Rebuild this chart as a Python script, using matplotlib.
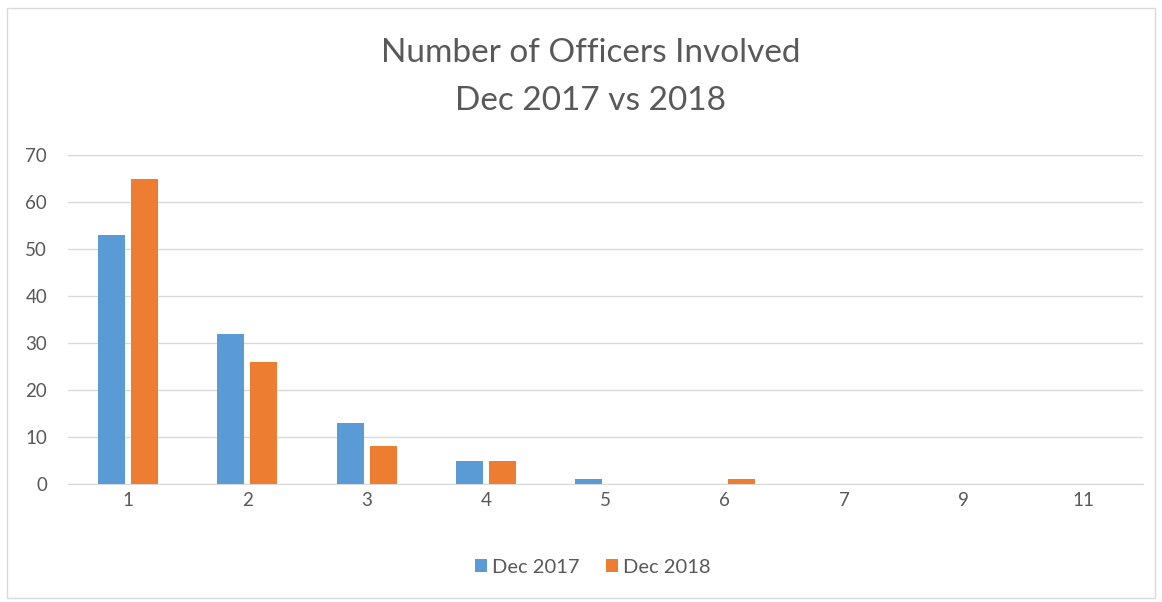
import matplotlib
matplotlib.use("Agg")
import matplotlib.pyplot as plt
import numpy as np
from matplotlib.patches import Rectangle

categories = ["1", "2", "3", "4", "5", "6", "7", "9", "11"]
dec_2017 = [53, 32, 13, 5, 1, 0, 0, 0, 0]
dec_2018 = [65, 26, 8, 5, 0, 1, 0, 0, 0]
series_names = ["Dec 2017", "Dec 2018"]
yticks = [0, 10, 20, 30, 40, 50, 60, 70]

plt.rcParams['font.family'] = ['Lato', 'DejaVu Sans']
text_color = '#595959'

fig = plt.figure(figsize=(11.62, 6.02), dpi=100)
fig.patches.append(Rectangle((0.006, 0.007), 0.988, 0.98, transform=fig.transFigure,
                             fill=False, edgecolor='#d9d9d9', linewidth=1))
ax = fig.add_axes([0.0585, 0.196, 0.925, 0.5465])

x = np.arange(len(categories))
w = 0.226
off = 0.138
ax.bar(x - off, dec_2017, width=w, color='#5b9bd5', label=series_names[0], zorder=3)
ax.bar(x + off, dec_2018, width=w, color='#ed7d31', label=series_names[1], zorder=3)

ax.set_xlim(-0.5, len(categories) - 0.5)
ax.set_ylim(0, 70)
ax.set_yticks(yticks)
ax.set_xticks(x)
ax.set_xticklabels(categories)
ax.grid(axis='y', color='#d9d9d9', linewidth=1, zorder=0)
for s in ['top', 'right', 'left']:
    ax.spines[s].set_visible(False)
ax.spines['bottom'].set_color('#d9d9d9')
ax.tick_params(axis='both', length=0, labelsize=13.5, colors=text_color)
ax.tick_params(axis='y', pad=15)
ax.tick_params(axis='x', pad=6)

fig.text(0.508, 0.912, "Number of Officers Involved", ha='center', va='center',
         fontsize=24, color=text_color)
fig.text(0.508, 0.832, "Dec 2017 vs 2018", ha='center', va='center',
         fontsize=24, color=text_color)

fig.legend(loc='center', bbox_to_anchor=(0.51, 0.058), ncol=2, frameon=False,
           fontsize=14.5, labelcolor=text_color, handlelength=0.6, handleheight=0.6,
           handletextpad=0.25, columnspacing=1.3)

fig.savefig("out.png", dpi=100)
